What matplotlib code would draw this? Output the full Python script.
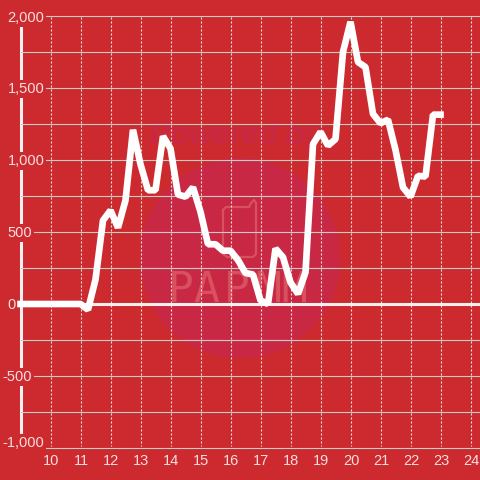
import matplotlib
matplotlib.use("Agg")
import matplotlib.pyplot as plt
from matplotlib.patches import Ellipse

hours = [9, 11, 11.25, 11.5, 11.75, 12, 12.25, 12.5, 12.75, 13, 13.25, 13.5, 13.75, 14, 14.25, 14.5, 14.75,
         15, 15.25, 15.5, 15.75, 16, 16.25, 16.5, 16.75, 17, 17.25, 17.5, 17.75, 18, 18.25, 18.5, 18.75,
         19, 19.25, 19.5, 19.75, 20, 20.25, 20.5, 20.75, 21, 21.25, 21.5, 21.75, 22, 22.25, 22.5, 22.75, 23]
values = [0, 0, -40, 170, 580, 650, 530, 720, 1210, 970, 790, 790, 1165, 1080, 760, 745, 810,
          640, 415, 415, 370, 370, 305, 215, 205, 25, 0, 385, 325, 150, 70, 220, 1110,
          1195, 1100, 1145, 1750, 1960, 1680, 1645, 1320, 1255, 1280, 1070, 810, 745, 890, 885, 1315, 1315]
x_ticks = list(range(10, 25))
y_labels = [2000, 1500, 1000, 500, 0, -500, -1000]
y_grid = list(range(-1000, 2001, 250))

RED = "#cc2a2e"
PINK = "#c92845"
PALE = "#d9505f"
TXT = "#f6dede"
plt.rcParams["lines.scale_dashes"] = False
fig = plt.figure(figsize=(4.8, 4.8), dpi=100, facecolor=RED)
ax = fig.add_axes([0, 0, 1, 1], facecolor=RED)
ax.set_xlim(9 - 20.5 / 30, 9 + 459.5 / 30)
ax.set_ylim(-(480 - 304) / 0.144, 304 / 0.144)
ax.axis("off")

def px(xp):
    return 9 + (xp - 20.5) / 30
def py(yp):
    return (304 - yp) / 0.144

# watermark
ax.add_artist(Ellipse((px(240), py(258)), 200 / 30, 200 / 0.144, color=PINK, lw=0, zorder=1))
ax.text(px(236), py(136), "Powered by", color=PINK, fontsize=22, fontweight="bold", style="italic",
        family="Liberation Sans", ha="center", va="center", zorder=1)
for ch, xp in zip("PAPMM", [181, 206, 237, 268, 294]):
    ax.text(px(xp), py(290), ch, color=PALE, fontsize=31, family="DejaVu Sans Mono", ha="center", va="center", zorder=1)
phone = [(223, 210), (226, 207), (249, 207), (251, 203), (254, 200), (256, 203), (256, 254), (253, 257),
         (227, 257), (223, 254), (223, 210)]
ax.plot([px(p[0]) for p in phone], [py(p[1]) for p in phone], color=PALE, lw=1.6, zorder=1)

# spine and grids
ax.plot([px(20.5), px(20.5)], [py(16), py(448)], color="#f2f0f0", lw=2.2, zorder=2, solid_capstyle="butt")
for t in x_ticks:
    ax.plot([t, t], [py(17), py(446)], color="#e8e8e0", lw=0.8, ls=(0, (1.44, 1.44)), zorder=2)
for v in y_grid:
    ax.plot([px(20.5), px(480)], [v, v], color="#c9cdc6", lw=0.8, zorder=2)
ax.plot([px(17), px(480)], [0, 0], color="#f5f0ee", lw=2.2, zorder=3, solid_capstyle="butt")

# labels with a background that interrupts the spine and grid
for v in y_labels:
    yp = 305 - v * 0.144
    if v == 2000:
        yp = 18
    if v == -1000:
        yp = 443
    xp = 2 if v < 0 else 7.5
    ax.text(px(xp), py(yp), f"{v:,}", color=TXT, fontsize=10.5, family="Liberation Sans",
            ha="left", va="center", zorder=4,
            bbox=dict(facecolor=RED, edgecolor="none", pad=1.5))
for t in x_ticks:
    ax.text(t + 0.03, py(461), str(t), color=TXT, fontsize=10.5, family="Liberation Sans",
            ha="center", va="center", zorder=4)

ax.plot(hours, values, color="white", lw=4.8, solid_joinstyle="bevel", solid_capstyle="projecting", zorder=5)
fig.savefig("out.png", dpi=100, facecolor=RED)
